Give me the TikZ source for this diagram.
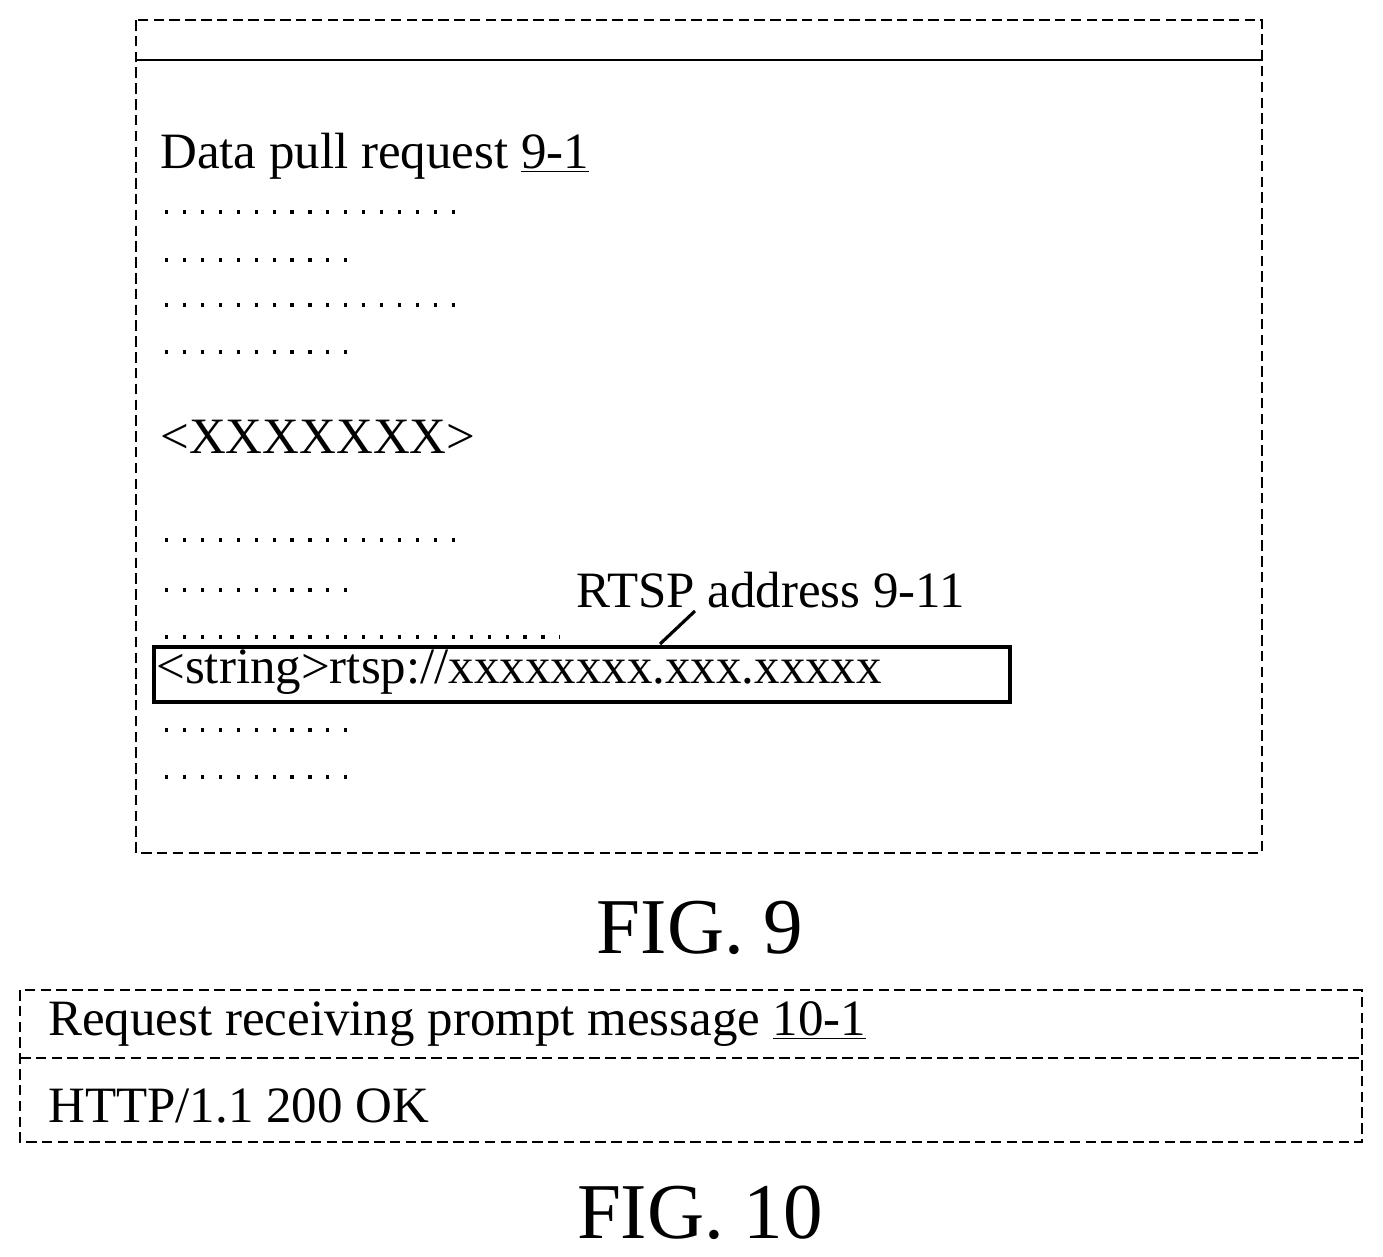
\documentclass[tikz,border=0pt]{standalone}
\usepackage{fontspec}
\setmainfont{Liberation Serif}
\usetikzlibrary{positioning}

\begin{document}
\begin{tikzpicture}[
    x=0.02cm, y=-0.02cm,
    frame/.style={draw, line width=1.4pt, dash pattern=on 6pt off 3pt},
    dots/.style={line width=1.8pt, dash pattern=on 1.8pt off 8.4pt},
    txt/.style={anchor=west, inner sep=0pt, font=\fontsize{29}{33}\selectfont},
    figlabel/.style={inner sep=0pt, font=\fontsize{45}{50}\selectfont}
    ]
    \useasboundingbox (0,0) rectangle (1383,1257);

    % FIG. 9
    \draw[frame] (136,20) rectangle (1262,853);
    \draw[line width=1.6pt] (136,60) -- (1262,60);
    \node[txt] (title9) at (160,156) {Data pull request \underline{9-1}};

    \foreach \y/\len in {212/460, 260/358, 305/460, 352/358,
                         540/460, 590/358, 637/560, 730/358, 777/358}
      \draw[dots] (165,\y) -- (\len,\y);

    \node[txt] (tag) at (160,437) {<XXXXXXX>};

    \node[draw, line width=2.4pt, fill=white, inner sep=0pt, anchor=north west,
          minimum width=17.12cm, minimum height=1.1cm] (rtsp) at (152,645) {};
    \node[txt] (url) at (156,672) {<string>rtsp://xxxxxxxx.xxx.xxxxx};
    \node[txt] (addr) at (576,590) {RTSP address 9-11};
    \coordinate (lead) at (695,611);
    \draw[line width=1.8pt] (lead) -- (660,644);

    \node[figlabel] (fig9) at (700,928) {FIG. 9};

    % FIG. 10
    \draw[frame] (20,990) rectangle (1362,1142);
    \draw[frame] (20,1058) -- (1362,1058);
    \node[txt] (title10) at (48,1024) {Request receiving prompt message \underline{10-1}};
    \node[txt] (ok) at (48,1106) {HTTP/1.1 200 OK};

    \node[figlabel] (fig10) at (700,1213) {FIG. 10};
\end{tikzpicture}
\end{document}
